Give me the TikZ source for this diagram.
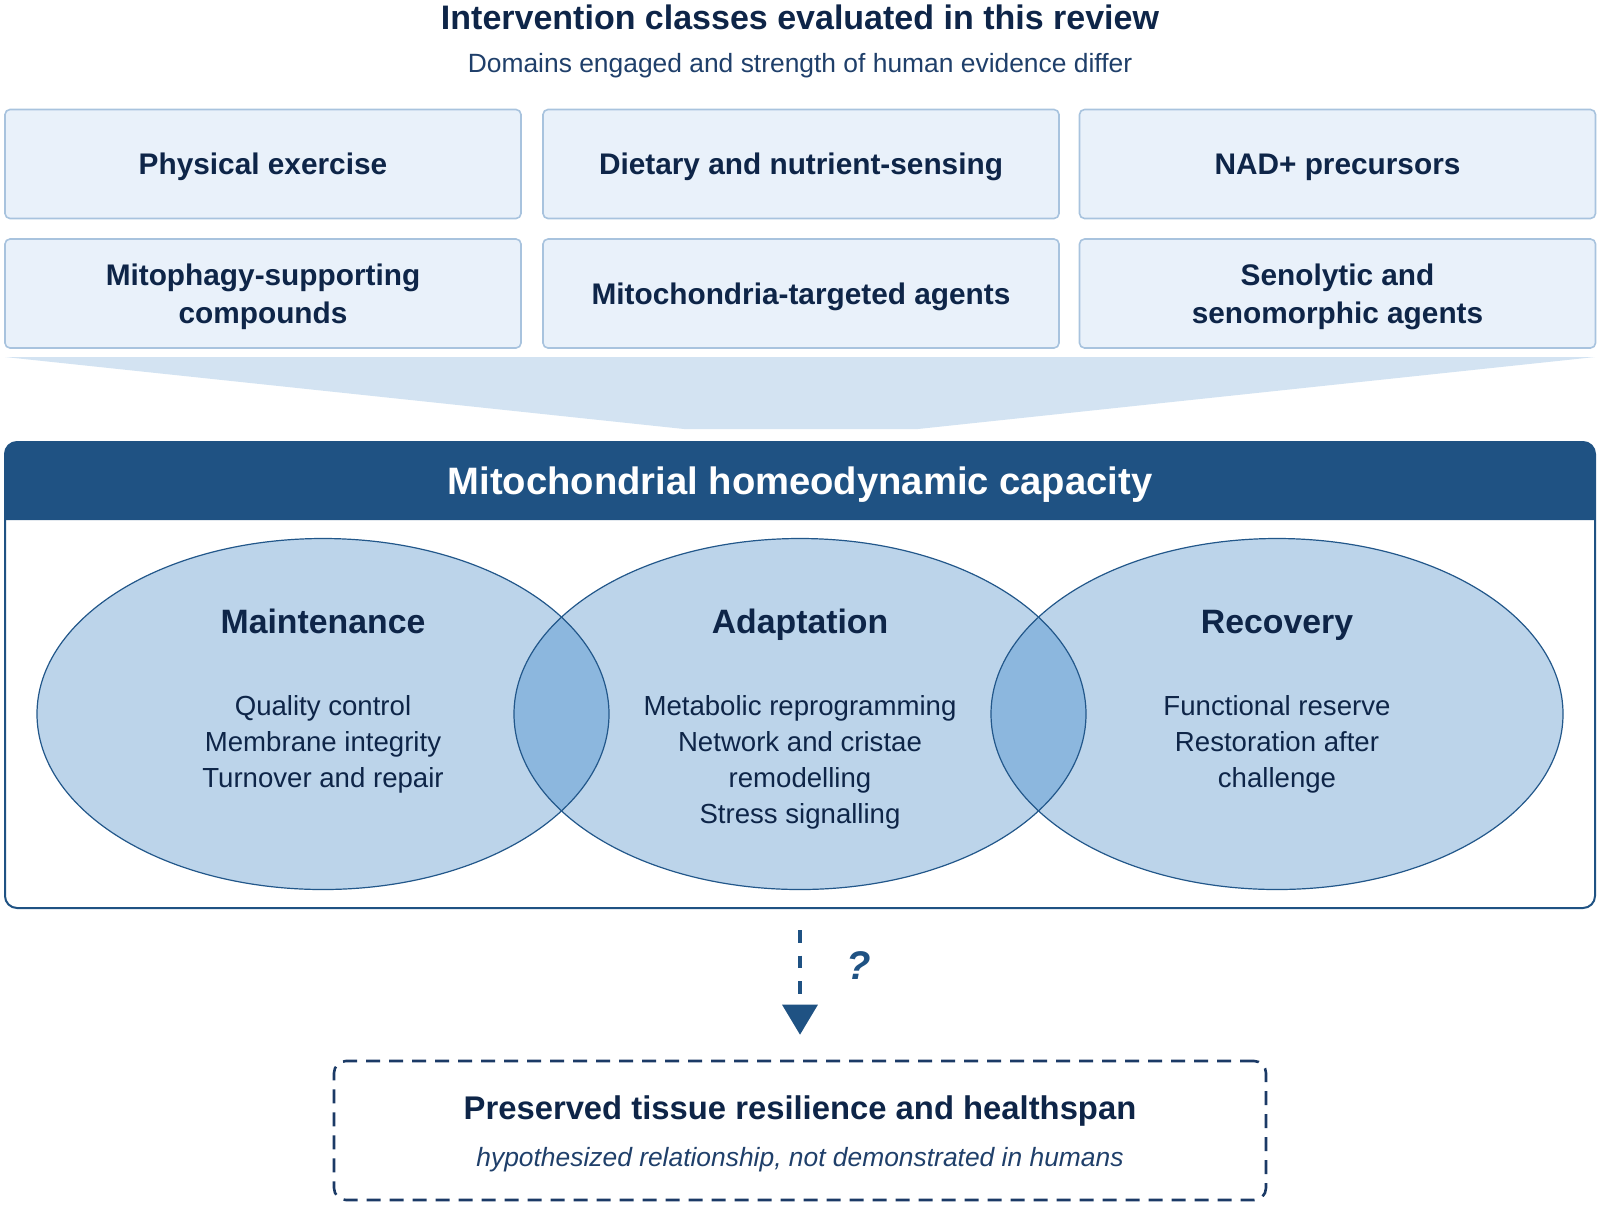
\documentclass[tikz,border=0pt]{standalone}
\usepackage{fontspec}
\setmainfont{Liberation Sans}
\usetikzlibrary{arrows.meta,positioning}

\definecolor{inktext}{HTML}{0E2548}
\definecolor{subtext}{HTML}{1F3F6A}
\definecolor{boxfill}{HTML}{E9F1FA}
\definecolor{boxline}{HTML}{A8C3DE}
\definecolor{funnelfill}{HTML}{D3E3F2}
\definecolor{capblue}{HTML}{1F5283}
\definecolor{ellfill}{HTML}{BCD4EA}
\definecolor{lensfill}{HTML}{8CB7DE}
\definecolor{elline}{HTML}{22578A}
\definecolor{outline}{HTML}{1B3A66}

\begin{document}
\begin{tikzpicture}[x=0.5pt,y=-0.5pt,
    every node/.style={text=inktext, inner sep=0pt},
    classbox/.style={draw=boxline, fill=boxfill, line width=0.8pt, rounded corners=2.5pt,
      minimum width=258pt, minimum height=54.5pt, align=center, text depth=0pt,
      font=\fontsize{14.9}{19}\selectfont\bfseries},
    zonetitle/.style={anchor=base, font=\fontsize{16.9}{20}\selectfont\bfseries},
    zonetext/.style={align=center, font=\fontsize{13.8}{18}\selectfont},
    ellipsefill/.style={fill=ellfill},
    ellipseline/.style={draw=elline, line width=0.6pt},
    linkarrow/.style={draw=capblue, line width=1.75pt, dash pattern=on 6.25pt off 6.5pt,
      -{Triangle[length=15pt, width=17.5pt]}, shorten <=10.5pt, shorten >=12.5pt}]
  \useasboundingbox (0,0) rectangle (1600,1206);

  \node[font=\fontsize{17}{20}\selectfont\bfseries] (title) at (800,17.5) {Intervention classes evaluated in this review};
  \node[font=\fontsize{13.2}{15}\selectfont, text=subtext] (subtitle) at (800,66) {Domains engaged and strength of human evidence differ};

  \node[classbox] (exer) at (263,164) {Physical exercise};
  \node[classbox] (diet) at (801,164) {Dietary and nutrient-sensing};
  \node[classbox] (nad) at (1337.5,164) {NAD+ precursors};
  \node[classbox] (mitoph) at (263,293.5) {Mitophagy-supporting\\compounds};
  \node[classbox] (mtarget) at (801,293.5) {Mitochondria-targeted agents};
  \node[classbox] (seno) at (1337.5,293.5) {Senolytic and\\senomorphic agents};

  \fill[funnelfill] (5,357) -- (1595,357) -- (918,429) -- (684,429) -- cycle;

  \fill[capblue] (5,520) {[rounded corners=6pt] -- (5,442) -- (1595,442)} -- (1595,520) -- cycle;
  \node[draw=capblue, line width=1pt, rounded corners=6pt, minimum width=795pt, minimum height=233pt] (cap) at (800,675) {};
  \node[font=\fontsize{19.1}{22}\selectfont\bfseries, text=white] (captitle) at (800,485) {Mitochondrial homeodynamic capacity};

  \foreach \cx in {323,800,1277}
    \fill[ellipsefill] (\cx,714) ellipse [x radius=286, y radius=175.5];
  \begin{scope}
    \clip (323,714) ellipse [x radius=286, y radius=175.5];
    \fill[lensfill] (800,714) ellipse [x radius=286, y radius=175.5];
  \end{scope}
  \begin{scope}
    \clip (800,714) ellipse [x radius=286, y radius=175.5];
    \fill[lensfill] (1277,714) ellipse [x radius=286, y radius=175.5];
  \end{scope}
  \foreach \cx in {323,800,1277}
    \draw[ellipseline] (\cx,714) ellipse [x radius=286, y radius=175.5];

  \node[zonetitle] (maint) at (323,633) {Maintenance};
  \node[zonetitle] (adapt) at (800,633) {Adaptation};
  \node[zonetitle] (recov) at (1277,633) {Recovery};
  \node[zonetext] (mainttext) at (323,744) {Quality control\\Membrane integrity\\Turnover and repair};
  \node[zonetext] (adapttext) at (800,762) {Metabolic reprogramming\\Network and cristae\\remodelling\\Stress signalling};
  \node[zonetext] (recovtext) at (1277,744) {Functional reserve\\Restoration after\\challenge};

  \node[draw=outline, line width=1.3pt, dash pattern=on 7pt off 4.5pt, rounded corners=6pt,
    minimum width=466pt, minimum height=69.5pt] (outcome) at (800,1130.5) {};
  \node[font=\fontsize{16.4}{19}\selectfont\bfseries] (outhead) at (800,1111) {Preserved tissue resilience and healthspan};
  \node[font=\fontsize{13.2}{15}\selectfont\itshape, text=subtext] (outnote) at (800,1160) {hypothesized relationship, not demonstrated in humans};

  \draw[linkarrow] (cap.south) -- (outcome.north);
  \node[font=\fontsize{20}{22}\selectfont\bfseries\itshape, text=capblue] (qmark) at (859,966) {?};
\end{tikzpicture}
\end{document}
